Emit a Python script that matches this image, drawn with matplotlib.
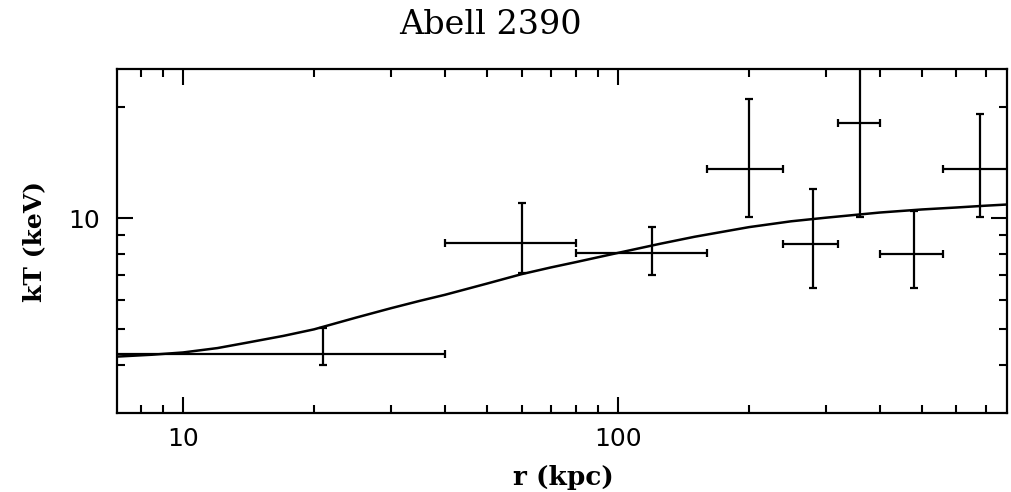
import matplotlib
matplotlib.use("Agg")
import matplotlib.pyplot as plt
from matplotlib.ticker import FixedLocator, NullFormatter, FixedFormatter

# Data points (r in kpc, kT in keV)
r_center = [21, 60, 120, 200, 280, 360, 480, 680]
r_low = [1, 40, 80, 160, 240, 320, 400, 560]
r_high = [40, 80, 160, 240, 320, 400, 560, 800]
kt = [4.29, 8.56, 8.04, 13.57, 8.51, 18.07, 7.99, 13.57]
kt_low = [4.00, 7.10, 7.01, 10.06, 6.47, 10.06, 6.47, 10.06]
kt_high = [5.04, 10.98, 9.46, 20.98, 11.98, 30.0, 10.44, 19.1]

# Model curve
curve_r = [7.05, 8.5, 10, 12, 14, 17, 20, 25, 30, 35, 40, 50, 60, 70, 80, 100,
           125, 150, 200, 250, 300, 400, 500, 600, 700, 784]
curve_kt = [4.22, 4.27, 4.33, 4.45, 4.60, 4.80, 5.00, 5.38, 5.70, 5.97, 6.20, 6.65,
            7.05, 7.35, 7.60, 8.05, 8.52, 8.90, 9.45, 9.80, 10.02, 10.35, 10.55,
            10.68, 10.80, 10.88]

x_major = [10, 100]
x_minor = [8, 9, 20, 30, 40, 50, 60, 70, 80, 90, 200, 300, 400, 500, 600, 700]
y_major = [10]
y_minor = [4, 5, 6, 7, 8, 9, 20]

fig = plt.figure(figsize=(10.11, 4.92), dpi=100)
ax = fig.add_axes([117 / 1011, 1 - 413 / 492, 890 / 1011, 344 / 492])

xerr = [[c - l for c, l in zip(r_center, r_low)], [h - c for c, h in zip(r_center, r_high)]]
yerr = [[c - l for c, l in zip(kt, kt_low)], [h - c for c, h in zip(kt, kt_high)]]
ax.errorbar(r_center, kt, xerr=xerr, yerr=yerr, fmt='none', ecolor='black',
            elinewidth=1.6, capsize=3, capthick=1.6)
ax.plot(curve_r, curve_kt, color='black', lw=1.8)

ax.set_xscale('log')
ax.set_yscale('log')
ax.set_xlim(7.05, 784)
ax.set_ylim(2.97, 25.3)

ax.xaxis.set_major_locator(FixedLocator(x_major))
ax.xaxis.set_major_formatter(FixedFormatter([str(v) for v in x_major]))
ax.xaxis.set_minor_locator(FixedLocator(x_minor))
ax.xaxis.set_minor_formatter(NullFormatter())
ax.yaxis.set_major_locator(FixedLocator(y_major))
ax.yaxis.set_major_formatter(FixedFormatter([str(v) for v in y_major]))
ax.yaxis.set_minor_locator(FixedLocator(y_minor))
ax.yaxis.set_minor_formatter(NullFormatter())

ax.tick_params(which='both', direction='in', top=True, right=True, width=1.5)
ax.tick_params(which='major', length=11.5, labelsize=18, pad=10)
ax.tick_params(axis='y', which='major', pad=12)
ax.tick_params(which='minor', length=6)
for s in ax.spines.values():
    s.set_linewidth(1.6)

fig.text(563 / 1011, 1 - 478 / 492, 'r (kpc)', ha='center', va='center',
         fontsize=19, fontweight='bold', family='DejaVu Serif')
fig.text(34 / 1011, 1 - 242 / 492, 'kT (keV)', ha='center', va='center', rotation=90,
         fontsize=18, fontweight='bold', family='DejaVu Serif')
fig.text(490 / 1011, 1 - 25 / 492, 'Abell 2390', ha='center', va='center',
         fontsize=24, family='DejaVu Serif')

fig.savefig('out.png', dpi=100)
